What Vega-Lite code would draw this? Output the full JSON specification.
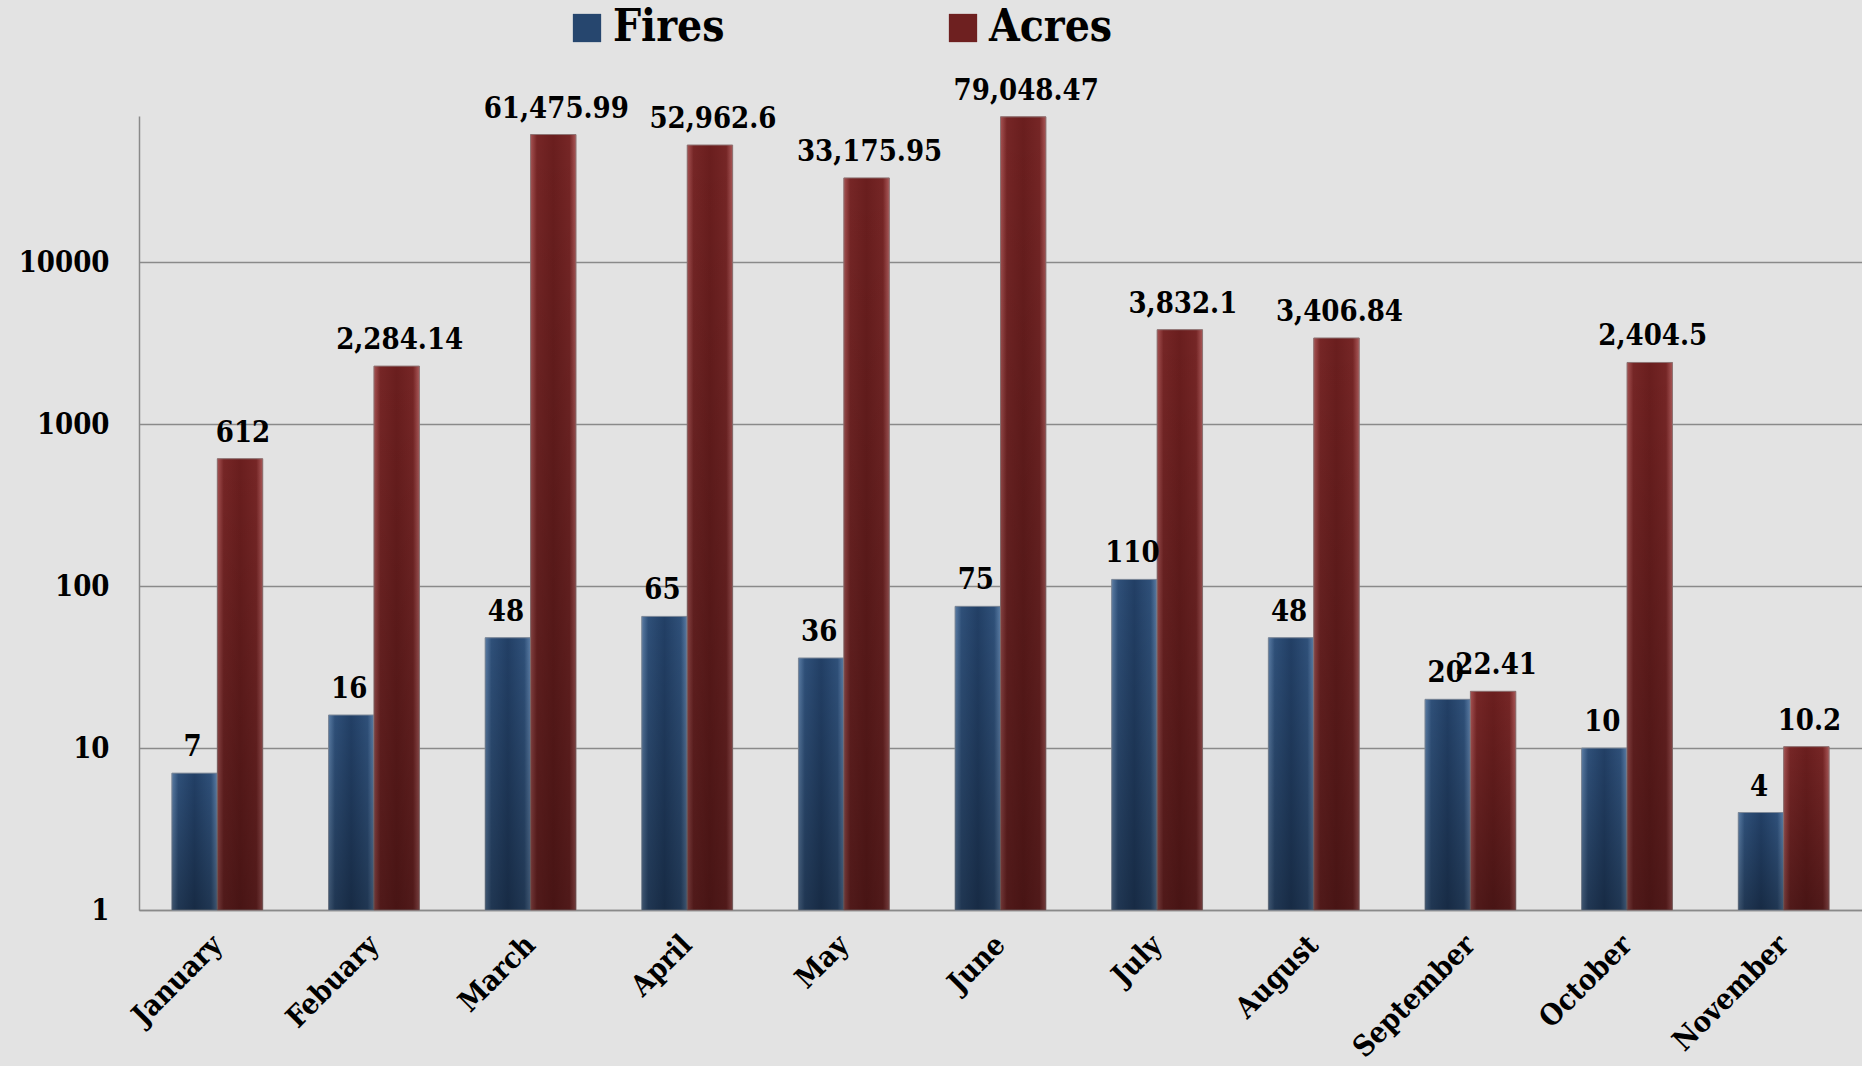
{
  "$schema": "https://vega.github.io/schema/vega-lite/v6.json",
  "autosize": {"type": "none"},
  "width": 1723,
  "height": 794,
  "padding": {"left": 139, "top": 116, "right": 0, "bottom": 156},
  "background": "#e3e3e3",
  "config": {
    "view": {"stroke": null},
    "font": "DejaVu Serif Condensed",
    "axis": {"labelFont": "DejaVu Serif Condensed", "labelFontWeight": "bold", "labelColor": "#000000"}
  },
  "data": {
    "values": [
      {"month": "January", "series": "Fires", "value": 7},
      {"month": "January", "series": "Acres", "value": 612},
      {"month": "Febuary", "series": "Fires", "value": 16},
      {"month": "Febuary", "series": "Acres", "value": 2284.14},
      {"month": "March", "series": "Fires", "value": 48},
      {"month": "March", "series": "Acres", "value": 61475.99},
      {"month": "April", "series": "Fires", "value": 65},
      {"month": "April", "series": "Acres", "value": 52962.6},
      {"month": "May", "series": "Fires", "value": 36},
      {"month": "May", "series": "Acres", "value": 33175.95},
      {"month": "June", "series": "Fires", "value": 75},
      {"month": "June", "series": "Acres", "value": 79048.47},
      {"month": "July", "series": "Fires", "value": 110},
      {"month": "July", "series": "Acres", "value": 3832.1},
      {"month": "August", "series": "Fires", "value": 48},
      {"month": "August", "series": "Acres", "value": 3406.84},
      {"month": "September", "series": "Fires", "value": 20},
      {"month": "September", "series": "Acres", "value": 22.41},
      {"month": "October", "series": "Fires", "value": 10},
      {"month": "October", "series": "Acres", "value": 2404.5},
      {"month": "November", "series": "Fires", "value": 4},
      {"month": "November", "series": "Acres", "value": 10.2}
    ]
  },
  "encoding": {
    "x": {
      "field": "month", "type": "nominal", "sort": null,
      "scale": {"paddingInner": 0.42, "paddingOuter": 0.21},
      "axis": {
        "title": null, "labelAngle": -45, "labelAlign": "right", "labelBaseline": "middle",
        "labelFontSize": 29, "labelPadding": 30, "ticks": false, "tickSize": 0,
        "domain": true, "domainColor": "#8a8a8a", "domainWidth": 1.5, "grid": false
      }
    },
    "xOffset": {"field": "series", "type": "nominal", "scale": {"domain": ["Fires", "Acres"], "paddingInner": 0, "paddingOuter": 0}},
    "y": {
      "field": "value", "type": "quantitative",
      "scale": {"type": "log", "domain": [1, 80000], "nice": false, "zero": false},
      "axis": {
        "title": null, "values": [1, 10, 100, 1000, 10000], "format": "d",
        "labelFontSize": 29, "labelPadding": 30, "ticks": false, "tickSize": 0,
        "domain": true, "domainColor": "#8a8a8a", "domainWidth": 1.5,
        "grid": true, "gridColor": "#8a8a8a", "gridWidth": 1.5, "gridOpacity": 1
      }
    }
  },
  "layer": [
    {
      "mark": {"type": "bar"},
      "encoding": {
        "y2": {"datum": 1},
        "color": {
          "field": "series", "type": "nominal",
          "scale": {"domain": ["Fires", "Acres"], "range": ["#26466e", "#6e2020"]},
          "legend": {
            "title": null, "orient": "none", "direction": "horizontal",
            "legendX": 426, "legendY": -110,
            "symbolType": "square", "symbolSize": 800, "symbolStrokeWidth": 0,
            "labelFont": "DejaVu Serif Condensed", "labelFontWeight": "bold", "labelFontSize": 44,
            "labelColor": "#000000", "labelOffset": 4, "columnPadding": 216, "labelLimit": 400
          }
        }
      }
    },
    {
      "transform": [{"filter": "datum.series === 'Fires'"}],
      "mark": {
        "type": "bar", "stroke": "#7f8a99", "strokeWidth": 1,
        "fill": {"gradient": "linear", "x1": 0, "x2": 1, "y1": 0, "y2": 0,
          "stops": [
            {"offset": 0, "color": "#5a7ca4"},
            {"offset": 0.14, "color": "#2f5079"},
            {"offset": 0.5, "color": "#223f65"},
            {"offset": 0.86, "color": "#2f5079"},
            {"offset": 1, "color": "#5c7ea6"}
          ]}
      },
      "encoding": {"y2": {"datum": 1}}
    },
    {
      "transform": [{"filter": "datum.series === 'Acres'"}],
      "mark": {
        "type": "bar", "stroke": "#8f7575", "strokeWidth": 1,
        "fill": {"gradient": "linear", "x1": 0, "x2": 1, "y1": 0, "y2": 0,
          "stops": [
            {"offset": 0, "color": "#a65252"},
            {"offset": 0.14, "color": "#762626"},
            {"offset": 0.5, "color": "#6a1e1e"},
            {"offset": 0.86, "color": "#762626"},
            {"offset": 1, "color": "#aa5858"}
          ]}
      },
      "encoding": {"y2": {"datum": 1}}
    },
    {
      "mark": {
        "type": "bar",
        "fill": {"gradient": "linear", "x1": 0, "x2": 0, "y1": 0, "y2": 1,
          "stops": [
            {"offset": 0, "color": "rgba(0,0,0,0)"},
            {"offset": 1, "color": "rgba(0,0,0,0.32)"}
          ]}
      },
      "encoding": {"y2": {"datum": 1}}
    },
    {
      "transform": [{"filter": "datum.series === 'Fires'"}],
      "mark": {"type": "text", "baseline": "alphabetic", "dy": -17, "dx": -2, "font": "DejaVu Serif Condensed", "fontWeight": "bold", "fontSize": 29, "color": "#000000"},
      "encoding": {
        "text": {"field": "value", "type": "quantitative", "format": ",.2~f"}
      }
    },
    {
      "transform": [{"filter": "datum.series === 'Acres'"}],
      "mark": {"type": "text", "baseline": "alphabetic", "dy": -17, "dx": 3, "font": "DejaVu Serif Condensed", "fontWeight": "bold", "fontSize": 29, "color": "#000000"},
      "encoding": {
        "text": {"field": "value", "type": "quantitative", "format": ",.2~f"}
      }
    }
  ]
}
